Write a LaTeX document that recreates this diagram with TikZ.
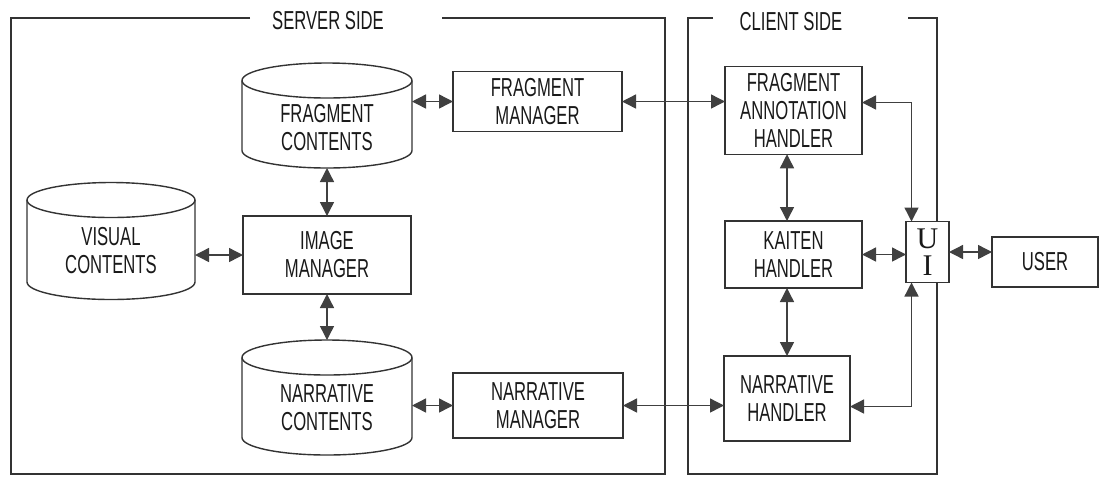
\documentclass[tikz,border=0pt]{standalone}
\usepackage{fontspec}
\setmainfont{Liberation Sans}[FakeStretch=0.64]
\newfontfamily\uifont{Liberation Serif}
\usetikzlibrary{arrows.meta}

\tikzset{
  box/.style={draw=black!80, line width=0.7pt, rectangle, align=center,
    font=\fontsize{13}{14}\selectfont, text=black!90, outer sep=0pt},
  db/.style={rectangle, inner sep=0pt, outer sep=0pt},
  dbline/.style={draw=black!80, line width=0.7pt},
  dbtext/.style={align=center, font=\fontsize{13}{14}\selectfont, text=black!90},
  link/.style={draw=black!75, line width=0.7pt,
    {Triangle[length=7pt,width=7pt]}-{Triangle[length=7pt,width=7pt]}},
  frame/.style={draw=black!80, line width=0.7pt},
  title/.style={font=\fontsize{13}{14}\selectfont, text=black!90}
}

\begin{document}
\begin{tikzpicture}[x=0.5pt, y=-0.5pt]

\useasboundingbox (0,0) rectangle (1102,478);

% 服务器端外框
\draw[frame] (250,18) -- (11,18) -- (11,474) -- (665,474) -- (665,18) -- (442,18);
\node[title] (svtitle) at (328,21) {SERVER SIDE};

% 客户端外框
\draw[frame] (713,18) -- (688,18) -- (688,474) -- (937,474) -- (937,18) -- (908,18);
\node[title] (cltitle) at (791,22) {CLIENT SIDE};

% 数据库（圆柱体）
\node[db, minimum width=85pt, minimum height=35pt] (fc) at (327,115.5) {};
\node[db, minimum width=84pt, minimum height=41pt] (vc) at (111,241) {};
\node[db, minimum width=85pt, minimum height=40pt] (nc) at (327,397.5) {};
\foreach \n/\r in {fc/42.5pt, vc/42pt, nc/42.5pt} {
  \draw[dbline] (\n.north west) -- (\n.south west)
    arc[start angle=180, end angle=360, x radius=\r, y radius=8.75pt] -- (\n.north east);
  \draw[dbline] (\n.north) ellipse [x radius=\r, y radius=8.75pt];
}
\node[dbtext] (fctext) at (327,128) {FRAGMENT\\CONTENTS};
\node[dbtext] (vctext) at (111,251) {VISUAL\\CONTENTS};
\node[dbtext] (nctext) at (327,407.5) {NARRATIVE\\CONTENTS};
\coordinate (fcbot) at ([yshift=-8.75pt]fc.south);
\coordinate (nctop) at ([yshift=8.75pt]nc.north);

% 服务器端管理模块
\node[box, minimum width=84.5pt, minimum height=28.5pt] (fm) at (537.5,101.5) {FRAGMENT\\MANAGER};
\node[box, minimum width=84pt, minimum height=39pt] (im) at (327,255) {IMAGE\\MANAGER};
\node[box, minimum width=85pt, minimum height=32.5pt] (nm) at (538,405.5) {NARRATIVE\\MANAGER};

% 客户端处理模块
\node[box, minimum width=68.5pt, minimum height=42.5pt] (fah) at (793.5,110.5) {FRAGMENT\\ANNOTATION\\HANDLER};
\node[box, minimum width=68.5pt, minimum height=33.5pt] (kh) at (793.5,254.5) {KAITEN\\HANDLER};
\node[box, minimum width=63pt, minimum height=42.5pt] (nh) at (787,398.5) {NARRATIVE\\HANDLER};

% 用户界面与用户
\node[box, fill=white, inner sep=1pt, minimum width=21.5pt, minimum height=30.5pt,
  font=\uifont\fontsize{15}{13.5}\selectfont] (ui) at (927.5,252) {U\\I};
\node[box, minimum width=53pt, minimum height=25pt] (user) at (1045,262) {USER};

% 服务器端连线
\draw[link] (fm.west -| fc.east) -- (fm.west);
\draw[link] (im.west -| vc.east) -- (im.west);
\draw[link] (fcbot) -- (im.north);
\draw[link] (im.south) -- (nctop);
\draw[link] (nm.west -| nc.east) -- (nm.west);

% 服务器与客户端之间的连线
\draw[link] (fm.east) -- (fm.east -| fah.west);
\draw[link] (nm.east) -- (nm.east -| nh.west);

% 客户端连线
\draw[link] (fah.south -| nh.north) -- (kh.north -| nh.north);
\draw[link] (kh.south -| nh.north) -- (nh.north);
\draw[link] ([yshift=4pt]fah.east) -| ([xshift=-8pt]ui.north);
\draw[link] ([yshift=-4pt]nh.east) -| ([xshift=-8pt]ui.south);
\draw[link] (kh.east) -- (kh.east -| ui.west);
\draw[link] (ui.east) -- (ui.east -| user.west);

\end{tikzpicture}
\end{document}
